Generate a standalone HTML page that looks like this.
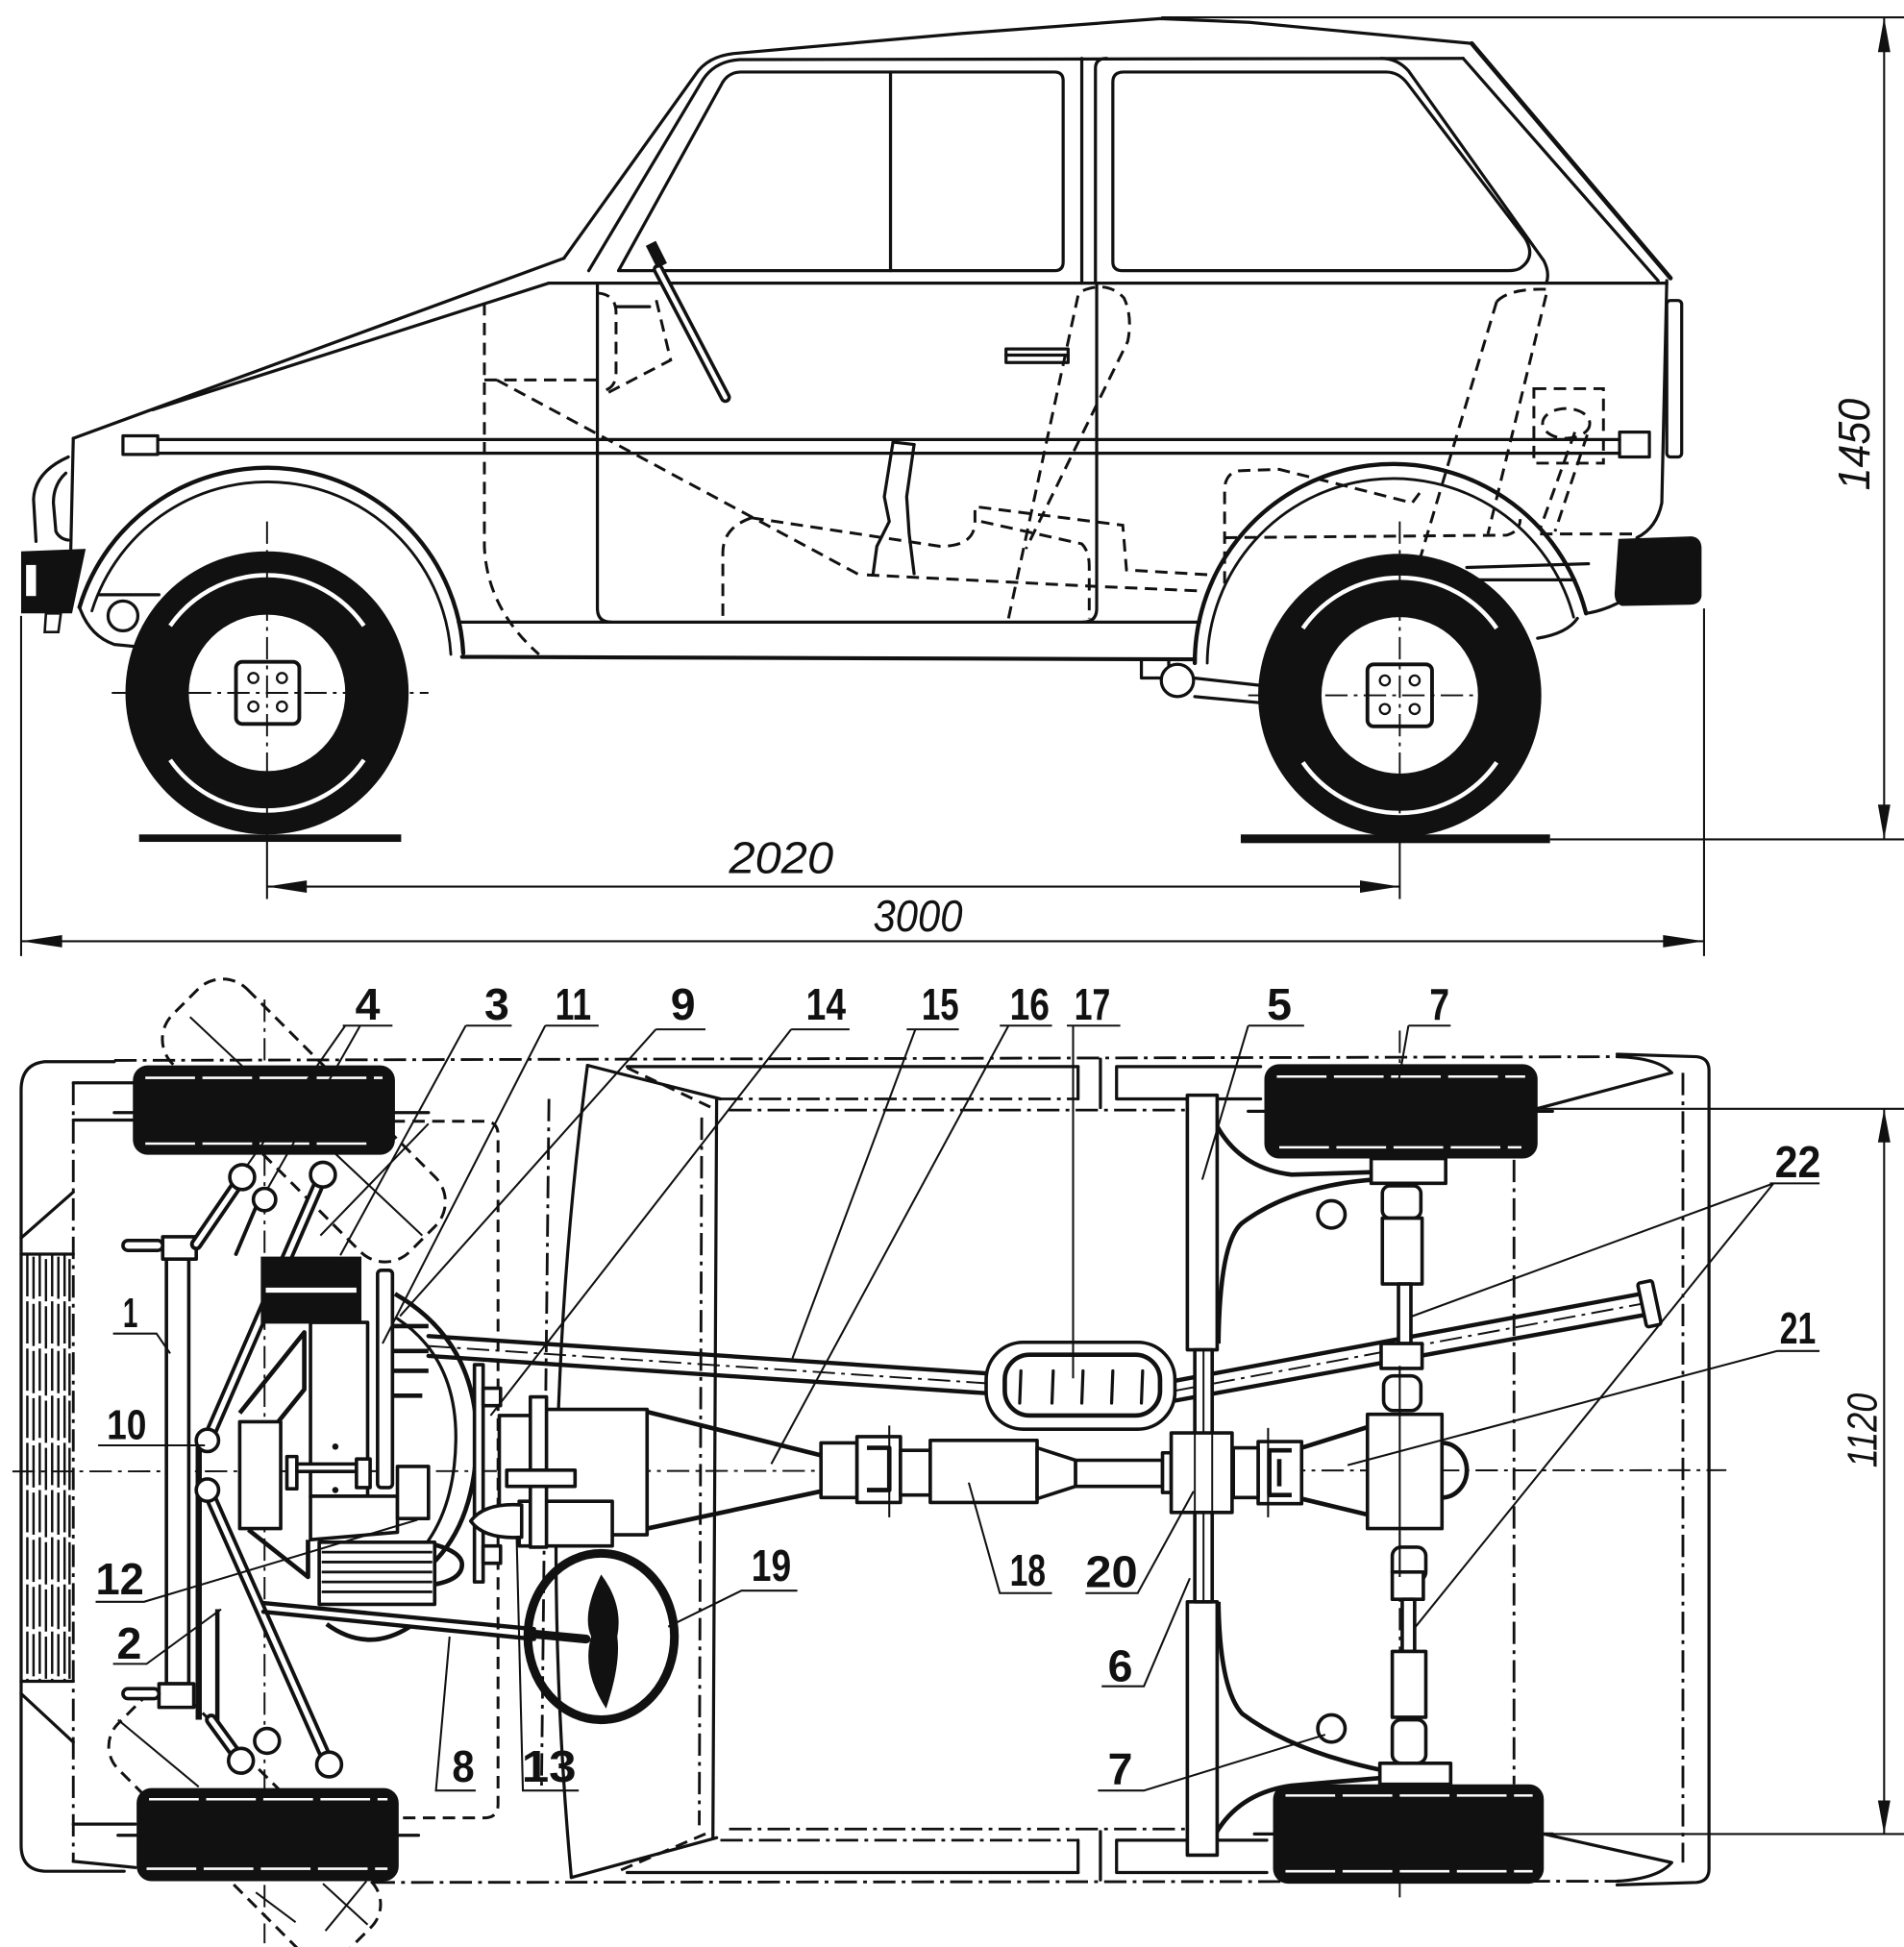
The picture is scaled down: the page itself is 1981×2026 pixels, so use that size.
<!DOCTYPE html>
<html><head><meta charset="utf-8"><style>
html,body{margin:0;padding:0;background:#fff}
svg{display:block}
.s{fill:none;stroke:#111;stroke-width:2.5;stroke-linecap:round;stroke-linejoin:round}
.t{fill:none;stroke:#111;stroke-width:1.6}
.k{fill:none;stroke:#111;stroke-width:3.6;stroke-linejoin:round}
.dd{fill:none;stroke:#111;stroke-width:2.2;stroke-dasharray:18 5 3 5}
.ddt{fill:none;stroke:#111;stroke-width:1.5;stroke-dasharray:18 5 3 5}
.d{fill:none;stroke:#111;stroke-width:2.3;stroke-dasharray:10 6}
.w{fill:#fff;stroke:#111;stroke-width:2.8;stroke-linejoin:round}
.b{fill:#111;stroke:#111;stroke-width:1}
.lab{font-family:"Liberation Sans",sans-serif;font-weight:bold;fill:#111}
.dim{font-family:"Liberation Sans",sans-serif;font-style:italic;fill:#111}
</style></head><body>
<svg xmlns="http://www.w3.org/2000/svg" width="1981" height="2026" viewBox="0 0 1533 1568" preserveAspectRatio="none">
<rect width="1533" height="1568" fill="#fff"/>

<!-- ================= SIDE VIEW ================= -->
<!-- dimension lines -->
<g class="t">
<line x1="935" y1="14" x2="1535" y2="14"/>
<line x1="1248" y1="676" x2="1535" y2="676"/>
<line x1="1517" y1="14" x2="1517" y2="676"/>
<line x1="215" y1="714" x2="1127" y2="714"/>
<line x1="17" y1="758" x2="1372" y2="758"/>
<line x1="17" y1="496" x2="17" y2="770"/>
<line x1="1372" y1="490" x2="1372" y2="770"/>
<line x1="215" y1="676" x2="215" y2="724"/>
<line x1="1127" y1="676" x2="1127" y2="724"/>
</g>
<g fill="#111">
<polygon points="1517,14 1512,42 1522,42"/>
<polygon points="1517,676 1512,648 1522,648"/>
<polygon points="215,714 247,709 247,719"/>
<polygon points="1127,714 1095,709 1095,719"/>
<polygon points="17,758 50,753 50,763"/>
<polygon points="1372,758 1339,753 1339,763"/>
</g>
<text class="dim" x="587" y="703" font-size="36" textLength="84" lengthAdjust="spacingAndGlyphs">2020</text>
<text class="dim" x="703" y="750" font-size="36" textLength="72" lengthAdjust="spacingAndGlyphs">3000</text>
<text class="dim" font-size="36" textLength="74" lengthAdjust="spacingAndGlyphs" transform="translate(1505,395) rotate(-90)">1450</text>

<!-- ground -->
<rect x="112" y="672" width="211" height="6" fill="#111"/>
<rect x="999" y="672" width="249" height="7" fill="#111"/>

<g class="s">
<!-- roof -->
<path d="M454,208 L560,60 Q570,45 592,43 L774,27 L934,15 L1006,18 L1185,35"/>
<path d="M1185,35 L1345,224" stroke-width="3.6"/>
<path d="M1178,47 L1335,226"/>
<path d="M474,218 L566,64 Q576,49 596,48 L1178,47"/>
<!-- front window -->
<path d="M498,218 L582,66 Q587,58 597,58 L849,58 Q856,58 856,65 L856,211 Q856,218 849,218 Z"/>
<line x1="717" y1="58" x2="717" y2="218"/>
<line x1="871" y1="47" x2="871" y2="228"/>
<path d="M882,228 L882,55 Q882,47 891,47"/>
<path d="M896,211 L896,66 Q896,58 905,58 L1116,58 Q1126,58 1133,67 L1228,192 Q1237,207 1224,216 Q1221,218 1214,218 L904,218 Q896,218 896,211 Z"/>
<path d="M1112,47 Q1125,47 1134,57 L1243,210 Q1248,220 1245,228"/>
<line x1="442" y1="228" x2="1342" y2="228"/>
<!-- hood / front -->
<path d="M59,353 L454,208"/>
<path d="M123,330 L442,228"/>
<path d="M59,353 L57,442"/>
<path d="M55,368 Q28,380 27,402 L29,436"/>
<path d="M53,381 Q43,390 43,405 L45,428 Q48,434 55,435"/>
<!-- molding -->
<line x1="127" y1="354" x2="1304" y2="354"/>
<line x1="127" y1="365" x2="1304" y2="365"/>
<rect x="99" y="351" width="28" height="15"/>
<rect x="1304" y="348" width="24" height="20"/>
<!-- door -->
<path d="M481,228 L481,490 Q481,501 492,501"/>
<path d="M883,228 L883,490 Q883,501 872,501"/>
<line x1="369" y1="501" x2="966" y2="501"/>
<line x1="372" y1="529" x2="962" y2="531" stroke-width="3.2"/>
<rect x="810" y="281" width="50" height="11"/>
<line x1="810" y1="286" x2="860" y2="286"/>
<!-- front lower -->
<path d="M64,489 Q72,512 92,519 L112,521 Q124,519 128,510"/>
<line x1="79" y1="479" x2="128" y2="479"/>
<circle cx="99" cy="496" r="12"/>
<!-- rear end -->
<path d="M1342,226 L1338,405 Q1334,425 1318,433"/>
<rect x="1342" y="242" width="12" height="126" rx="3"/>
<path d="M1277,494 Q1290,492 1302,486"/>
<path d="M1270,498 Q1262,510 1238,514"/>
<line x1="1181" y1="457" x2="1279" y2="454"/>
<line x1="1186" y1="467" x2="1268" y2="467"/>
<!-- rear under -->
<rect x="919" y="531" width="22" height="15"/>
<circle cx="948" cy="548" r="13" fill="#fff"/>
<line x1="961" y1="546" x2="1015" y2="552"/>
<line x1="962" y1="561" x2="1015" y2="566"/>
<!-- steering -->
<path d="M496,247 L523,247"/>
</g>
<!-- bumpers -->
<polygon points="17,444 69,442 58,494 17,494" fill="#111"/>
<rect x="20" y="454" width="10" height="27" fill="#fff" stroke="#111" stroke-width="2"/>
<polygon points="37,494 49,494 47,509 36,509" fill="#fff" stroke="#111" stroke-width="2"/>
<path d="M1303,434 L1362,432 Q1370,433 1370,442 L1370,480 Q1369,487 1360,487 L1306,488 Q1300,486 1300,478 Z" fill="#111"/>

<!-- steering column -->
<line x1="530" y1="217" x2="584" y2="320" stroke="#111" stroke-width="9" stroke-linecap="round"/>
<line x1="530" y1="217" x2="584" y2="320" stroke="#fff" stroke-width="3.5" stroke-linecap="round"/>
<line x1="524" y1="196" x2="533" y2="214" stroke="#111" stroke-width="9"/>

<!-- dashed interior -->
<g class="d">
<path d="M390,244 L390,440 Q392,490 434,527"/>
<line x1="390" y1="306" x2="481" y2="306"/>
<path d="M400,306 L692,463"/>
<path d="M481,236 Q496,237 496,252 L496,300 Q496,314 483,315"/>
<path d="M490,316 L540,290 L528,240"/>
<path d="M605,417 L757,440 Q785,440 785,420 L785,408 L904,423 L907,459 L975,463"/>
<path d="M605,417 Q582,425 582,445 L582,500"/>
<path d="M698,463 L877,472 L969,476"/>
<path d="M790,420 L871,438 Q877,444 877,456 L877,498"/>
<path d="M868,238 L812,498"/>
<path d="M872,234 Q892,226 905,240 Q912,255 908,275 L826,442"/>
<path d="M1205,243 Q1215,232 1246,233 L1198,430"/>
<path d="M1205,243 L1143,451"/>
<path d="M986,470 L986,392 Q988,379 1000,379 L1030,378 L1078,390 L1137,405 L1143,397"/>
<path d="M986,433 L1213,431 Q1224,428 1224,418"/>
<line x1="1240" y1="430" x2="1316" y2="430"/>
<rect x="1235" y="313" width="56" height="60"/>
<ellipse cx="1261" cy="341" rx="19" ry="12"/>
<path d="M1268,348 L1240,426"/>
<path d="M1278,350 L1252,428"/>
</g>
<g class="s" stroke-width="2">
<path d="M719,356 L712,400 L716,420 L706,440 L703,462"/>
<path d="M736,358 L730,400 L732,430 L736,462"/>
<line x1="719" y1="356" x2="736" y2="358"/>
</g>

<!-- arches -->
<g class="s">
<path d="M64,489 A158,158 0 0 1 373,526" stroke-width="3.4"/>
<path d="M74,492 A148,148 0 0 1 363,527" stroke-width="2.2"/>
<path d="M962,534 A160,160 0 0 1 1277,494" stroke-width="3.4"/>
<path d="M972,534 A150,150 0 0 1 1267,497" stroke-width="2.2"/>
</g>

<!-- wheels -->
<g>
<circle cx="215" cy="558" r="114" fill="#111"/>
<circle cx="215" cy="558" r="63" fill="#fff"/>
<path d="M137,504 A95,95 0 0 1 293,504" fill="none" stroke="#fff" stroke-width="3.5"/>
<path d="M293,612 A95,95 0 0 1 137,612" fill="none" stroke="#fff" stroke-width="3.5"/>
<rect x="190" y="533" width="51" height="50" rx="5" fill="#fff" stroke="#111" stroke-width="3"/>
<g fill="none" stroke="#111" stroke-width="1.8"><circle cx="204" cy="546" r="4"/><circle cx="227" cy="546" r="4"/><circle cx="204" cy="569" r="4"/><circle cx="227" cy="569" r="4"/></g>
<circle cx="1127" cy="560" r="114" fill="#111"/>
<circle cx="1127" cy="560" r="63" fill="#fff"/>
<path d="M1049,506 A95,95 0 0 1 1205,506" fill="none" stroke="#fff" stroke-width="3.5"/>
<path d="M1205,614 A95,95 0 0 1 1049,614" fill="none" stroke="#fff" stroke-width="3.5"/>
<rect x="1101" y="535" width="52" height="50" rx="5" fill="#fff" stroke="#111" stroke-width="3"/>
<g fill="none" stroke="#111" stroke-width="1.8"><circle cx="1115" cy="548" r="4"/><circle cx="1139" cy="548" r="4"/><circle cx="1115" cy="571" r="4"/><circle cx="1139" cy="571" r="4"/></g>
</g>
<g class="ddt">
<line x1="90" y1="558" x2="345" y2="558"/>
<line x1="215" y1="420" x2="215" y2="676"/>
<line x1="1005" y1="560" x2="1245" y2="560"/>
<line x1="1127" y1="420" x2="1127" y2="676"/>
</g>

<!-- ================= PLAN VIEW ================= -->
<!-- centre lines -->
<g class="ddt">
<line x1="10" y1="1185" x2="1390" y2="1184"/>
<line x1="213" y1="805" x2="213" y2="1565"/>
<line x1="1127" y1="830" x2="1127" y2="1528"/>
</g>
<!-- body outlines -->
<path class="s" d="M92,855 L36,855 Q17,857 17,878 L17,1486 Q17,1506 36,1507 L100,1507"/>
<line class="dd" x1="92" y1="854" x2="1302" y2="851"/>
<line class="dd" x1="300" y1="1516" x2="1302" y2="1515"/>
<path class="s" d="M1302,849 L1366,851 Q1376,852 1376,862 L1376,1505 Q1376,1515 1366,1516 L1302,1518"/>
<path class="s" d="M1302,851 Q1335,852 1346,864 L1237,893"/>
<path class="s" d="M1302,1515 Q1335,1513 1346,1500 L1243,1477"/>
<line class="dd" x1="1355" y1="864" x2="1355" y2="1500"/>
<line class="dd" x1="1219" y1="903" x2="1219" y2="1437"/>
<line class="dd" x1="59" y1="872" x2="59" y2="1500"/>
<g class="s">
<line x1="59" y1="872" x2="107" y2="872"/>
<line x1="59" y1="902" x2="107" y2="902"/>
<line x1="59" y1="1469" x2="109" y2="1469"/>
<line x1="59" y1="1499" x2="109" y2="1504"/>
<line x1="17" y1="997" x2="59" y2="960"/>
<line x1="17" y1="1364" x2="59" y2="1403"/>
<line x1="505" y1="859" x2="868" y2="859"/>
<line x1="868" y1="859" x2="868" y2="885"/>
<line x1="886" y1="853" x2="886" y2="892"/>
<path d="M899,859 L1015,859 M899,859 L899,885 L1015,885"/>
<line x1="505" y1="1508" x2="868" y2="1508"/>
<line x1="868" y1="1482" x2="868" y2="1508"/>
<line x1="886" y1="1475" x2="886" y2="1514"/>
<path d="M899,1508 L1020,1508 M899,1508 L899,1482 L1020,1482"/>
<!-- cabin -->
<path d="M473,858 L580,885"/>
<line x1="577" y1="885" x2="574" y2="1480"/>
<path d="M473,858 Q430,1185 460,1512"/>
<path d="M460,1512 L577,1480"/>
</g>
<g class="dd">
<line x1="580" y1="885" x2="868" y2="885"/>
<line x1="587" y1="894" x2="954" y2="894"/>
<line x1="580" y1="1482" x2="868" y2="1482"/>
<line x1="587" y1="1473" x2="954" y2="1473"/>
<line x1="565" y1="900" x2="563" y2="1470"/>
<line x1="442" y1="885" x2="436" y2="1440"/>
</g>
<g class="d">
<path d="M505,860 L575,893"/>
<path d="M500,1506 L570,1476"/>
<path d="M316,903 L390,903 Q401,903 401,914 L401,1453 Q401,1464 390,1464 L322,1464"/>
</g>
<!-- radiator -->
<g stroke="#111" stroke-width="1.9" stroke-dasharray="34 4">
<line x1="22" y1="1010" x2="22" y2="1354"/><line x1="27" y1="1012" x2="27" y2="1354"/>
<line x1="32" y1="1010" x2="32" y2="1354"/><line x1="37" y1="1014" x2="37" y2="1354"/>
<line x1="42" y1="1010" x2="42" y2="1354"/><line x1="47" y1="1012" x2="47" y2="1354"/>
<line x1="52" y1="1010" x2="52" y2="1354"/><line x1="56" y1="1014" x2="56" y2="1354"/>
</g>
<line x1="17" y1="1010" x2="59" y2="1010" class="s"/>
<line x1="17" y1="1354" x2="59" y2="1354" class="s"/>

<!-- turned wheels (dashed) -->
<rect class="d" x="110" y="860" width="270" height="85" rx="28" transform="rotate(45 245 902)"/>
<rect class="d" x="67" y="1430" width="260" height="80" rx="26" transform="rotate(45 197 1470)"/>
<g class="t">
<line x1="153" y1="819" x2="340" y2="995"/>
<line x1="258" y1="995" x2="345" y2="905"/>
<line x1="95" y1="1385" x2="160" y2="1439"/>
<line x1="206" y1="1524" x2="238" y2="1548"/>
<line x1="260" y1="1517" x2="296" y2="1550"/>
<line x1="295" y1="1515" x2="262" y2="1555"/>
</g>
<!-- axle stubs -->
<g class="s"><line x1="92" y1="896" x2="345" y2="896"/><line x1="95" y1="1478" x2="337" y2="1478"/>
<line x1="1005" y1="895" x2="1250" y2="895"/><line x1="1010" y1="1477" x2="1250" y2="1477"/></g>
<!-- tires -->
<g>
<rect x="107" y="858" width="211" height="72" rx="12" fill="#111"/>
<rect x="110" y="1440" width="211" height="75" rx="12" fill="#111"/>
<rect x="1018" y="857" width="220" height="76" rx="12" fill="#111"/>
<rect x="1025" y="1437" width="218" height="80" rx="12" fill="#111"/>
</g>
<g stroke="#fff" stroke-width="2" stroke-dasharray="40 6">
<line x1="117" y1="868" x2="308" y2="868"/><line x1="117" y1="921" x2="300" y2="921"/>
<line x1="120" y1="1449" x2="312" y2="1449"/><line x1="118" y1="1505" x2="312" y2="1505"/>
<line x1="1028" y1="867" x2="1228" y2="867"/><line x1="1030" y1="924" x2="1225" y2="924"/>
<line x1="1035" y1="1446" x2="1234" y2="1446"/><line x1="1035" y1="1507" x2="1234" y2="1507"/>
</g>

<!-- exhaust -->
<g stroke="#111" stroke-linecap="round" fill="none">
<line x1="345" y1="1076" x2="794" y2="1106" stroke-width="3.4"/>
<line x1="345" y1="1092" x2="794" y2="1122" stroke-width="3.4"/>
<line x1="946" y1="1112" x2="1321" y2="1042" stroke-width="3.4"/>
<line x1="946" y1="1128" x2="1324" y2="1059" stroke-width="3.4"/>
</g>
<line class="ddt" x1="345" y1="1084" x2="794" y2="1114"/>
<line class="ddt" x1="946" y1="1120" x2="1322" y2="1050"/>
<rect x="1322" y="1032" width="12" height="36" rx="2" class="w" transform="rotate(-12 1328 1050)"/>
<rect x="794" y="1081" width="152" height="70" rx="30" class="w" stroke-width="3.6"/>
<rect x="809" y="1091" width="125" height="49" rx="20" class="k"/>
<g class="s"><line x1="822" y1="1104" x2="821" y2="1130"/><line x1="848" y1="1104" x2="847" y2="1130"/><line x1="872" y1="1104" x2="871" y2="1130"/><line x1="896" y1="1104" x2="895" y2="1130"/><line x1="920" y1="1104" x2="919" y2="1130"/></g>

<!-- rear beam 5/6 -->
<g>
<path class="k" d="M971,886 Q988,940 1040,946 L1106,944"/>
<path class="k" d="M1106,950 Q1040,955 1000,985 Q982,1000 981,1082"/>
<path class="k" d="M981,1290 Q982,1360 1000,1380 Q1040,1410 1110,1425"/>
<path class="k" d="M971,1494 Q988,1445 1040,1438 L1110,1432"/>
<rect x="956" y="882" width="24" height="205" class="w"/>
<rect x="956" y="1290" width="24" height="204" class="w"/>
<rect x="962" y="1087" width="14" height="203" class="w" stroke-width="2.4"/>
<line x1="969" y1="1087" x2="969" y2="1290" stroke="#111" stroke-width="1.5"/>
<circle cx="1072" cy="978" r="11" class="w"/>
<circle cx="1072" cy="1392" r="11" class="w"/>
</g>

<!-- rear axle -->
<g>
<rect x="1104" y="933" width="60" height="20" class="w"/>
<rect x="1113" y="955" width="31" height="26" rx="6" class="w"/>
<rect x="1113" y="981" width="32" height="53" class="w"/>
<rect x="1126" y="1034" width="10" height="48" class="w" stroke-width="2"/>
<rect x="1112" y="1082" width="33" height="20" class="w"/>
<rect x="1114" y="1108" width="30" height="28" rx="8" class="w"/>
<path class="k" d="M1102,1149 L1048,1166 M1102,1220 L1048,1207"/>
<rect x="1101" y="1139" width="60" height="92" class="w" stroke-width="3.2"/>
<path d="M1161,1162 A20,22 0 0 1 1161,1206" class="k"/>
<path class="w" d="M1013,1161 L1048,1161 L1048,1211 L1013,1211 Z"/>
<path class="k" d="M1040,1168 L1022,1168 L1022,1204 L1040,1204 M1030,1175 L1030,1197"/>
<rect x="993" y="1166" width="20" height="40" class="w"/>
<rect x="1121" y="1246" width="27" height="27" rx="7" class="w"/>
<rect x="1121" y="1266" width="25" height="22" class="w"/>
<rect x="1129" y="1288" width="10" height="42" class="w" stroke-width="2"/>
<rect x="1121" y="1330" width="27" height="53" class="w"/>
<rect x="1121" y="1385" width="27" height="35" rx="7" class="w"/>
<rect x="1111" y="1420" width="57" height="17" class="w"/>
</g>

<!-- drive shafts -->
<g>
<path class="k" d="M521,1137 L661,1172 M521,1231 L661,1201"/>
<rect x="661" y="1162" width="29" height="44" class="w"/>
<path class="w" d="M690,1157 L725,1157 L725,1210 L690,1210 Z"/>
<path class="k" d="M698,1166 L716,1166 L716,1200 L698,1200"/>
<rect x="725" y="1168" width="24" height="36" class="w"/>
<rect x="749" y="1160" width="86" height="50" class="w" stroke-width="3.4"/>
<path class="w" d="M835,1166 L866,1176 L866,1197 L835,1207 Z"/>
<rect x="866" y="1176" width="70" height="21" class="w"/>
<rect x="936" y="1170" width="7" height="32" class="w" stroke-width="2"/>
<rect x="943" y="1154" width="49" height="64" class="w" stroke-width="3.2"/>
<line x1="962" y1="1154" x2="962" y2="1218" stroke="#111" stroke-width="1.5"/>
<line x1="976" y1="1154" x2="976" y2="1218" stroke="#111" stroke-width="1.5"/>
</g>
<g class="t"><line x1="716" y1="1148" x2="716" y2="1222"/><line x1="1021" y1="1150" x2="1021" y2="1222"/><line x1="1127" y1="1100" x2="1127" y2="1270"/></g>

<!-- front suspension -->
<g>
<line x1="160" y1="1165" x2="160" y2="1385" stroke="#111" stroke-width="5"/>
<line x1="175" y1="1296" x2="175" y2="1386" stroke="#111" stroke-width="3.5"/>
<rect x="134" y="1012" width="18" height="344" class="w" stroke-width="3.6"/>
<rect x="131" y="996" width="27" height="18" class="w"/>
<rect x="99" y="999" width="32" height="8" rx="4" class="w" stroke-width="2.2"/>
<rect x="128" y="1356" width="28" height="19" class="w"/>
<rect x="99" y="1360" width="29" height="8" rx="4" class="w" stroke-width="2.2"/>
<g stroke-linecap="round">
<line x1="158" y1="1002" x2="195" y2="948" stroke="#111" stroke-width="10"/>
<line x1="158" y1="1002" x2="195" y2="948" stroke="#fff" stroke-width="4"/>
<line x1="260" y1="946" x2="167" y2="1160" stroke="#111" stroke-width="10"/>
<line x1="260" y1="946" x2="167" y2="1160" stroke="#fff" stroke-width="4"/>
<line x1="167" y1="1200" x2="265" y2="1421" stroke="#111" stroke-width="10"/>
<line x1="167" y1="1200" x2="265" y2="1421" stroke="#fff" stroke-width="4"/>
<line x1="170" y1="1385" x2="194" y2="1418" stroke="#111" stroke-width="10"/>
<line x1="170" y1="1385" x2="194" y2="1418" stroke="#fff" stroke-width="4"/>
<line x1="212" y1="958" x2="190" y2="1010" stroke="#111" stroke-width="3"/>
</g>
<circle cx="195" cy="948" r="10" class="w"/>
<circle cx="213" cy="966" r="9" class="w"/>
<circle cx="260" cy="946" r="10" class="w"/>
<circle cx="167" cy="1160" r="9" class="w"/>
<circle cx="167" cy="1200" r="9" class="w"/>
<circle cx="215" cy="1402" r="10" class="w"/>
<circle cx="194" cy="1418" r="10" class="w"/>
<circle cx="265" cy="1421" r="10" class="w"/>
</g>

<!-- engine -->
<g>
<path class="k" d="M318,1042 Q384,1080 384,1160 Q382,1240 332,1272"/>
<path class="s" d="M320,1062 Q368,1094 367,1160 Q366,1222 333,1255"/>
<rect x="193" y="1145" width="33" height="86" class="w" stroke-width="3.4"/>
<path class="k" d="M193,1138 L245,1073 L245,1119 L224,1145"/>
<path class="k" d="M200,1232 L248,1270 L248,1240"/>
<rect x="250" y="1065" width="46" height="140" class="w" stroke-width="3.4"/>
<circle cx="270" cy="1165" r="2.5" fill="#111"/>
<circle cx="270" cy="1200" r="2.5" fill="#111"/>
<rect x="210" y="1012" width="81" height="54" fill="#111"/>
<line x1="214" y1="1039" x2="287" y2="1039" stroke="#fff" stroke-width="4"/>
<rect x="304" y="1023" width="12" height="175" rx="3" class="w"/>
<rect x="231" y="1173" width="8" height="26" class="w" stroke-width="2"/>
<rect x="239" y="1179" width="48" height="6" class="w" stroke-width="2"/>
<rect x="287" y="1175" width="11" height="23" class="w" stroke-width="2"/>
<path class="w" d="M250,1205 L320,1205 L320,1234 L250,1240 Z"/>
<path class="w" d="M320,1181 L345,1181 L345,1223 L320,1223 Z"/>
<g class="k"><line x1="317" y1="1068" x2="345" y2="1068"/><line x1="317" y1="1088" x2="345" y2="1088"/><line x1="317" y1="1104" x2="345" y2="1104"/><line x1="317" y1="1124" x2="340" y2="1124"/></g>
<rect x="257" y="1242" width="93" height="50" class="w" stroke-width="3.2"/>
<g stroke="#111" stroke-width="2.2"><line x1="259" y1="1250" x2="348" y2="1250"/><line x1="259" y1="1258" x2="348" y2="1258"/><line x1="259" y1="1266" x2="348" y2="1266"/><line x1="259" y1="1274" x2="348" y2="1274"/><line x1="259" y1="1282" x2="348" y2="1282"/></g>
<path class="k" d="M350,1244 Q372,1250 372,1260 Q372,1272 350,1276"/>
<path class="k" d="M263,1308 Q296,1332 330,1310"/>
<rect x="382" y="1099" width="7" height="175" class="w" stroke-width="2.6"/>
<rect x="389" y="1118" width="14" height="14" class="w" stroke-width="2.2"/>
<rect x="389" y="1245" width="14" height="14" class="w" stroke-width="2.2"/>
<!-- gearbox -->
<rect x="402" y="1140" width="37" height="96" class="w" stroke-width="3"/>
<rect x="438" y="1135" width="83" height="101" class="w" stroke-width="3.4"/>
<rect x="418" y="1209" width="75" height="36" class="w" stroke-width="3.2"/>
<rect x="427" y="1125" width="13" height="121" class="w" stroke-width="2.6"/>
<rect x="408" y="1184" width="55" height="13" class="w" stroke-width="2.6"/>
<path class="w" d="M420,1212 Q390,1210 379,1225 Q390,1240 420,1238 Z"/>
</g>

<!-- steering -->
<g stroke="#111" stroke-linecap="round" fill="none">
<line x1="212" y1="1291" x2="430" y2="1312" stroke-width="3.4"/>
<line x1="212" y1="1298" x2="430" y2="1320" stroke-width="3.4"/>
<line x1="430" y1="1316" x2="472" y2="1320" stroke-width="7"/>
</g>
<ellipse cx="484" cy="1318" rx="59" ry="67" fill="none" stroke="#111" stroke-width="7"/>
<path d="M484,1268 Q468,1300 476,1318 Q468,1345 488,1376 Q500,1340 497,1318 Q502,1292 484,1268 Z" fill="#111"/>

<!-- 1120 dimension -->
<g class="t">
<line x1="1237" y1="893" x2="1535" y2="893"/>
<line x1="1243" y1="1477" x2="1535" y2="1477"/>
<line x1="1517" y1="893" x2="1517" y2="1477"/>
</g>
<polygon points="1517,893 1512,920 1522,920" fill="#111"/>
<polygon points="1517,1477 1512,1450 1522,1450" fill="#111"/>
<text class="dim" font-size="34" textLength="60" lengthAdjust="spacingAndGlyphs" transform="translate(1511,1182) rotate(-90)">1120</text>

<!-- labels & leaders -->
<g class="t" stroke-width="1.8">
<path d="M276,826 L316,826 M278,826 L198,940 M290,826 L215,958"/>
<path d="M375,826 L412,826 M375,826 L274,1011"/>
<path d="M439,826 L482,826 M439,826 L308,1082"/>
<path d="M528,829 L568,829 M528,829 L322,1060"/>
<path d="M637,829 L684,829 M637,829 L395,1140"/>
<path d="M730,829 L772,829 M737,829 L638,1094"/>
<path d="M805,826 L847,826 M812,826 L621,1179"/>
<path d="M859,826 L902,826 M864,826 L864,1110"/>
<path d="M1005,826 L1050,826 M1005,826 L968,950"/>
<path d="M1134,826 L1168,826 M1134,826 L1126,871"/>
<path d="M1425,953 L1465,953 M1428,953 L1137,1060 M1428,953 L1139,1311"/>
<path d="M1431,1088 L1465,1088 M1431,1088 L1085,1180"/>
<path d="M874,1283 L916,1283 L961,1201"/>
<path d="M847,1283 L805,1283 L780,1194"/>
<path d="M887,1358 L921,1358 L958,1271"/>
<path d="M884,1442 L921,1442 L1067,1397"/>
<path d="M79,1164 L165,1164"/>
<path d="M91,1074 L126,1074 L137,1090"/>
<path d="M77,1290 L116,1290 L336,1224"/>
<path d="M91,1340 L118,1340 L178,1296"/>
<path d="M383,1442 L351,1442 L362,1318"/>
<path d="M466,1442 L421,1442 L416,1239"/>
<path d="M642,1281 L597,1281 L538,1310"/>
</g>
<g class="lab">
<text x="286" y="821" font-size="36" textLength="20" lengthAdjust="spacingAndGlyphs">4</text>
<text x="390" y="821" font-size="36" textLength="20" lengthAdjust="spacingAndGlyphs">3</text>
<text x="447" y="821" font-size="36" textLength="29" lengthAdjust="spacingAndGlyphs">11</text>
<text x="540" y="821" font-size="36" textLength="20" lengthAdjust="spacingAndGlyphs">9</text>
<text x="649" y="821" font-size="36" textLength="32" lengthAdjust="spacingAndGlyphs">14</text>
<text x="742" y="821" font-size="36" textLength="30" lengthAdjust="spacingAndGlyphs">15</text>
<text x="813" y="821" font-size="36" textLength="32" lengthAdjust="spacingAndGlyphs">16</text>
<text x="865" y="821" font-size="36" textLength="29" lengthAdjust="spacingAndGlyphs">17</text>
<text x="1020" y="821" font-size="36" textLength="20" lengthAdjust="spacingAndGlyphs">5</text>
<text x="1151" y="821" font-size="36" textLength="16" lengthAdjust="spacingAndGlyphs">7</text>
<text x="1429" y="948" font-size="36" textLength="37" lengthAdjust="spacingAndGlyphs">22</text>
<text x="1433" y="1082" font-size="36" textLength="29" lengthAdjust="spacingAndGlyphs">21</text>
<text x="874" y="1278" font-size="36" textLength="42" lengthAdjust="spacingAndGlyphs">20</text>
<text x="813" y="1277" font-size="36" textLength="29" lengthAdjust="spacingAndGlyphs">18</text>
<text x="892" y="1354" font-size="36" textLength="20" lengthAdjust="spacingAndGlyphs">6</text>
<text x="892" y="1437" font-size="36" textLength="20" lengthAdjust="spacingAndGlyphs">7</text>
<text x="86" y="1159" font-size="34" textLength="32" lengthAdjust="spacingAndGlyphs">10</text>
<text x="99" y="1069" font-size="34" textLength="12" lengthAdjust="spacingAndGlyphs">1</text>
<text x="77" y="1284" font-size="36" textLength="39" lengthAdjust="spacingAndGlyphs">12</text>
<text x="94" y="1336" font-size="36" textLength="20" lengthAdjust="spacingAndGlyphs">2</text>
<text x="364" y="1435" font-size="36" textLength="18" lengthAdjust="spacingAndGlyphs">8</text>
<text x="420" y="1435" font-size="36" textLength="44" lengthAdjust="spacingAndGlyphs">13</text>
<text x="605" y="1273" font-size="36" textLength="32" lengthAdjust="spacingAndGlyphs">19</text>
</g>
</svg>
</body></html>
